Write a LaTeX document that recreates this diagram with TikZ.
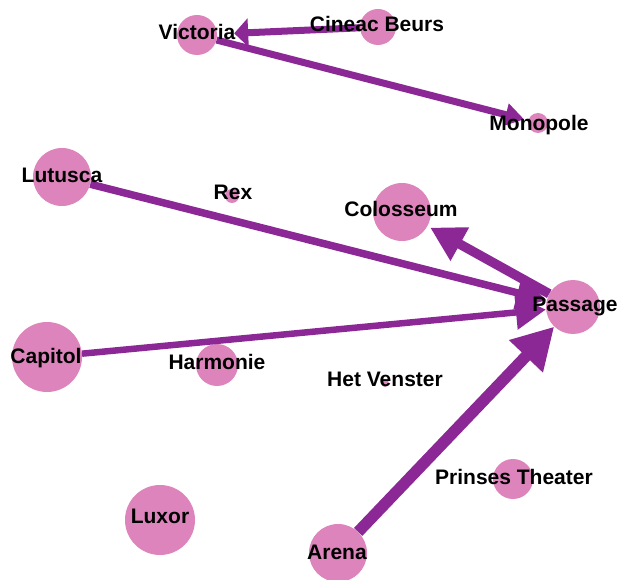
\documentclass[tikz,border=0pt]{standalone}
\usepackage{fontspec}
\setmainfont{Liberation Sans}
\usetikzlibrary{arrows.meta}
\definecolor{npink}{HTML}{DC84BB}
\definecolor{epurple}{HTML}{8C2896}
\tikzset{
  vert/.style={circle, fill=npink, draw=none, inner sep=0pt, minimum size=#1},
  lbl/.style={anchor=base, font=\fontsize{21}{24}\selectfont\bfseries, text=black, inner sep=0pt},
  edge/.style={draw=epurple, line width=#1},
}
\begin{document}
\begin{tikzpicture}[x=1pt,y=-1pt]
\useasboundingbox (0,0) rectangle (619,580);
% vertices
\node[vert=40pt] (vic) at (197,35) {};
\node[vert=36pt] (cin) at (378,27) {};
\node[vert=20pt] (mon) at (538,123) {};
\node[vert=58pt] (lut) at (62,177) {};
\node[vert=14pt] (rex) at (232,196) {};
\node[vert=58pt] (col) at (402,212) {};
\node[vert=54pt] (pas) at (573,307) {};
\node[vert=70pt] (cap) at (47,357) {};
\node[vert=42pt] (har) at (217,365) {};
\node[vert=8pt]  (het) at (385,383) {};
\node[vert=40pt] (pri) at (513,479) {};
\node[vert=70pt] (lux) at (160,520) {};
\node[vert=58pt] (are) at (338,553) {};
% edges
\draw[edge=7pt, -{Triangle[length=14pt,width=28pt]}, shorten >=17pt] (cin) -- (vic);
\draw[edge=7pt, -{Triangle[length=19pt,width=22pt]}, shorten >=4pt] (vic) -- (mon);
\draw[edge=7.5pt, -{Triangle[length=30pt,width=32pt]}] (lut) -- (pas);
\draw[edge=6.5pt, -{Triangle[length=30pt,width=33pt]}] (cap) -- (pas);
\draw[edge=9.5pt, -{Triangle[length=34pt,width=36pt]}, shorten >=3pt] (pas) -- (col);
\draw[edge=11.5pt, -{Triangle[length=41pt,width=44pt]}] (are) -- (pas);
% labels
\node[lbl] (tvic) at (197,40) {Victoria};
\node[lbl] (tcin) at (377,32) {Cineac Beurs};
\node[lbl] (tmon) at (539,131) {Monopole};
\node[lbl] (tlut) at (62,183) {Lutusca};
\node[lbl] (trex) at (233,200) {Rex};
\node[lbl] (tcol) at (401,217) {Colosseum};
\node[lbl] (tpas) at (575,312) {Passage};
\node[lbl] (tcap) at (46,363) {Capitol};
\node[lbl] (thar) at (217,369) {Harmonie};
\node[lbl] (thet) at (385,386) {Het Venster};
\node[lbl] (tpri) at (514,484) {Prinses Theater};
\node[lbl] (tare) at (337,559) {Arena};
\node[lbl] (tlux) at (160,523) {Luxor};
\end{tikzpicture}
\end{document}
